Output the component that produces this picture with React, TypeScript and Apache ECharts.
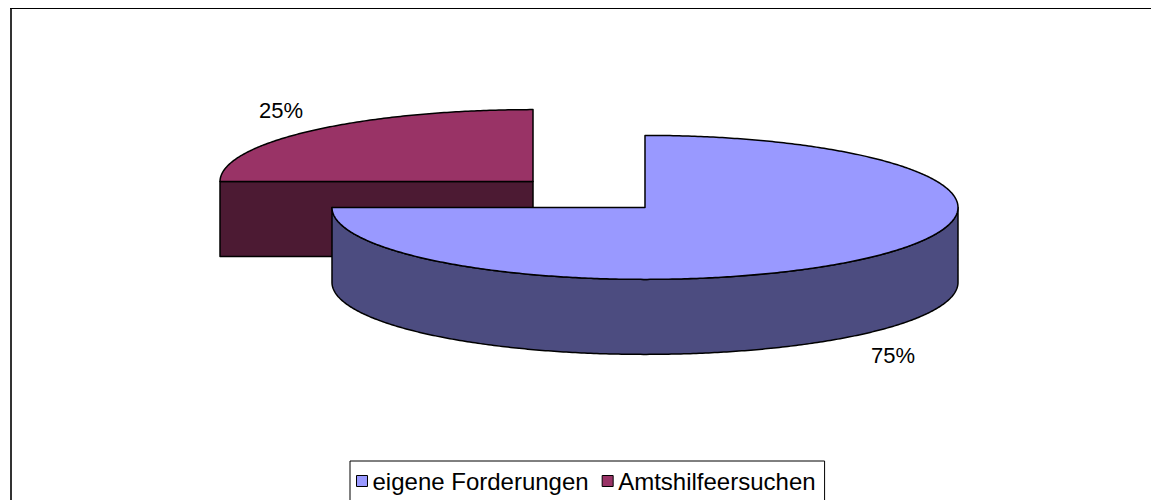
import React, { useEffect, useRef } from "react";
import * as echarts from "echarts";

const categories = ["eigene Forderungen", "Amtshilfeersuchen"];
const values = [75, 25];
const topColors = ["#9999FF", "#993366"];
const sideColors = ["#4C4C80", "#4C1A33"];

// layout constants (pixels)
const BASE_CX = 589;
const BASE_CY = 194.5;
const RX = 313;
const RY = 72;
const DEPTH = 75;
const EXPLODE = 0.253;
const LABEL_OFFSETS: number[][] = [
  [248, 148],
  [-252, -71],
];
const FONT = "'Liberation Sans', Arial, sans-serif";

function makeRenderItem(idx: number) {
  return (params: any, api: any) => {
    const total = values.reduce((a, b) => a + b, 0);
    const before = values.slice(0, idx).reduce((a, b) => a + b, 0);
    const v = api.value(0) as number;
    const start = (before / total) * Math.PI * 2;
    const end = start + (v / total) * Math.PI * 2;
    const mid = (start + end) / 2;
    const cx = BASE_CX + EXPLODE * RX * Math.sin(mid);
    const cy = BASE_CY - EXPLODE * RY * Math.cos(mid);
    const pt = (a: number, dz = 0) => [cx + RX * Math.sin(a), cy - RY * Math.cos(a) + dz];
    const arc = (a0: number, a1: number, dz = 0) => {
      const n = Math.max(2, Math.ceil(Math.abs(a1 - a0) / 0.01));
      const out: number[][] = [];
      for (let k = 0; k <= n; k++) out.push(pt(a0 + ((a1 - a0) * k) / n, dz));
      return out;
    };
    const stroke = { stroke: "#000", lineWidth: 1.5, lineJoin: "round" };
    const children: any[] = [];
    const c = [cx, cy];
    const cD = [cx, cy + DEPTH];
    if (Math.sin(start) < -1e-6) {
      children.push({
        type: "polygon",
        shape: { points: [c, pt(start), pt(start, DEPTH), cD] },
        style: { fill: sideColors[idx], ...stroke },
      });
    }
    if (Math.sin(end) > 1e-6) {
      children.push({
        type: "polygon",
        shape: { points: [c, pt(end), pt(end, DEPTH), cD] },
        style: { fill: sideColors[idx], ...stroke },
      });
    }
    const fronts = [
      [Math.PI / 2, (Math.PI * 3) / 2],
      [Math.PI * 2.5, Math.PI * 3.5],
    ];
    for (const [f0, f1] of fronts) {
      const a0 = Math.max(start, f0);
      const a1 = Math.min(end, f1);
      if (a1 - a0 > 1e-6) {
        const top = arc(a0, a1);
        const bottom = arc(a1, a0, DEPTH);
        children.push({
          type: "polygon",
          shape: { points: [...top, ...bottom] },
          style: { fill: sideColors[idx], ...stroke },
        });
      }
    }
    children.push({
      type: "polygon",
      shape: { points: [c, ...arc(start, end)] },
      style: { fill: topColors[idx], ...stroke },
    });
    const pct = Math.round((v / total) * 100);
    children.push({
      type: "text",
      x: cx + LABEL_OFFSETS[idx][0],
      y: cy + LABEL_OFFSETS[idx][1],
      style: {
        text: pct + "%",
        fill: "#000",
        font: `22px ${FONT}`,
        align: "center",
        verticalAlign: "middle",
      },
    });
    return { type: "group", children };
  };
}

export default function App() {
  const ref = useRef<HTMLDivElement>(null);
  useEffect(() => {
    if (!ref.current) return;
    const chart = echarts.init(ref.current, null, { renderer: "svg" });
    chart.setOption({
      animation: false,
      backgroundColor: "#fff",
      legend: {
        left: 350,
        top: 461,
        padding: [8, 9, 8, 6],
        borderColor: "#000",
        borderWidth: 1,
        itemGap: 13,
        itemWidth: 11,
        itemHeight: 11,
        selectedMode: false,
        textStyle: { fontSize: 24, fontFamily: FONT, color: "#000" },
        data: categories.map((name, i) => ({
          name,
          icon: "rect",
          itemStyle: { color: topColors[i], borderColor: "#000", borderWidth: 1 },
        })),
      },
      graphic: [
        { type: "line", shape: { x1: 11, y1: 8, x2: 11, y2: 500 }, style: { stroke: "#333", lineWidth: 2 } },
        { type: "line", shape: { x1: 10, y1: 8.5, x2: 1151, y2: 8.5 }, style: { stroke: "#000", lineWidth: 1 } },
      ],
      series: categories.map((name, i) => ({
        type: "custom",
        name,
        coordinateSystem: "none",
        z: 10 - i,
        itemStyle: { color: topColors[i] },
        data: [values[i]],
        renderItem: makeRenderItem(i),
      })),
    });
    return () => chart.dispose();
  }, []);
  return (
    <div
      ref={ref}
      style={{ position: "absolute", left: 0, top: 0, width: 1151, height: 500 }}
    />
  );
}
